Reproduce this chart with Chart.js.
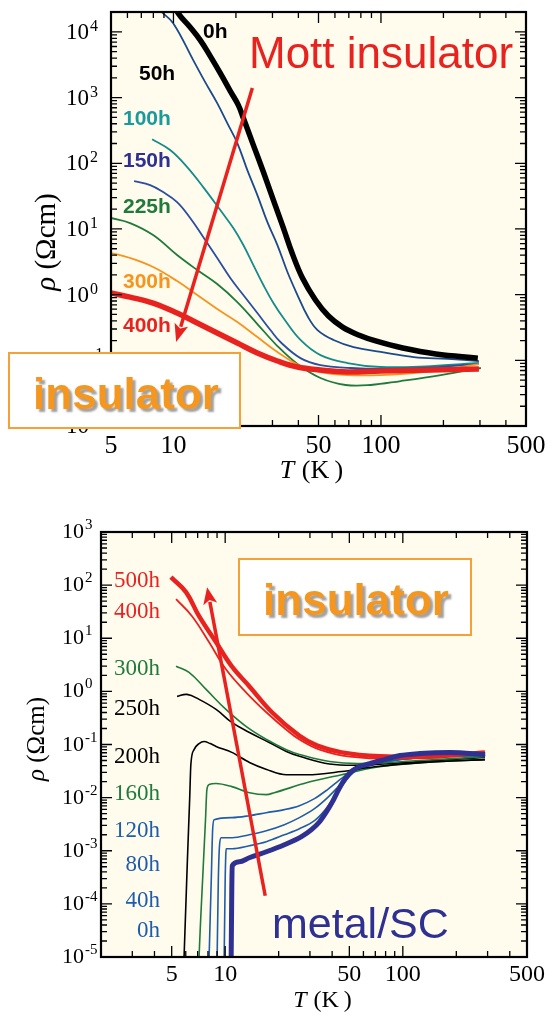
<!DOCTYPE html>
<html>
<head>
<meta charset="utf-8">
<script src="https://cdn.jsdelivr.net/npm/chart.js@4.4.1/dist/chart.umd.min.js"></script>
<style>
  html, body { margin: 0; padding: 0; background: #fff; width: 550px; height: 1014px; overflow: hidden; }
  .panel { position: absolute; left: 0; width: 550px; }
  #p1 { top: 0; height: 500px; }
  #p2 { top: 500px; height: 514px; }
  canvas { display: block; }
</style>
</head>
<body>
<div class="panel" id="p1"><canvas id="upper" width="550" height="500"></canvas></div>
<div class="panel" id="p2"><canvas id="lower" width="550" height="514"></canvas></div>
<script>
// ---------- axis labels ----------
const xTickValues = [5, 10, 50, 100, 500];
const upperDecades = [4, 3, 2, 1, 0, -1, -2];
const lowerDecades = [3, 2, 1, 0, -1, -2, -3, -4, -5];

// ---------- upper panel: resistivity (Ωcm) vs temperature (K) ----------
const upT0 = [9.9, 10.54, 12.04, 13.46, 15.04, 16.81, 18.79, 20.54, 21.71, 24.27, 27.13, 30.31, 33.88, 37.45, 41.85, 48.34, 55.85, 65.3, 78.0, 94.3, 127.3, 183.8, 293];
const upR0 = [30500, 19300, 11800, 7500, 4280, 2360, 1257, 769, 488, 189, 73.5, 27.5, 10.3, 4.15, 1.79, 0.828, 0.472, 0.321, 0.243, 0.197, 0.154, 0.125, 0.108];

const upT50 = [8.16, 8.62, 9.97, 12.45, 14.22, 16.25, 18.17, 20.31, 22.70, 25.37, 28.36, 31.69, 35.42, 39.59, 44.25, 49.45, 59.1, 73.8, 99.7, 143.8, 210, 296.5];
const upR50 = [30500, 21500, 13600, 3720, 1720, 824, 409, 203, 78.7, 32.8, 12.7, 5.69, 2.21, 0.986, 0.472, 0.289, 0.204, 0.159, 0.134, 0.112, 0.105, 0.0975];

const upT100 = [7.89, 9.64, 11.64, 13.91, 16.81, 19.43, 21.71, 24.27, 27.13, 30.31, 33.88, 40.93, 51.1, 69.0, 99.7, 173.8, 296.5];
const upR100 = [233, 159, 87.5, 43.4, 19.4, 10.3, 5.69, 2.82, 1.40, 0.745, 0.441, 0.204, 0.120, 0.091, 0.0791, 0.0818, 0.091];

const upT150 = [6.46, 7.72, 8.91, 10.41, 12.04, 13.91, 16.25, 18.79, 21.71, 25.37, 29.32, 32.78, 40.93, 51.1, 71.4, 99.7, 155.5, 296.5];
const upR150 = [53.6, 46.6, 36.5, 25.7, 14.7, 7.53, 3.61, 1.79, 0.986, 0.525, 0.289, 0.19, 0.108, 0.0847, 0.0764, 0.0738, 0.0764, 0.0878];

const upT225 = [5.0, 6.18, 7.98, 10.41, 13.02, 16.25, 20.31, 25.37, 31.69, 39.59, 51.1, 67.5, 89.2, 124.5, 194.3, 303];
const upR225 = [14.7, 12.3, 8.07, 4.01, 2.37, 1.45, 0.771, 0.357, 0.165, 0.0879, 0.0538, 0.0421, 0.0421, 0.0484, 0.0597, 0.0764];

const upT300 = [5.0, 6.18, 7.98, 10.41, 13.02, 16.25, 20.31, 25.37, 31.69, 40.93, 51.1, 69.0, 99.7, 143.8, 210, 296.5];
const upR300 = [4.30, 3.61, 2.63, 1.61, 0.986, 0.604, 0.383, 0.226, 0.134, 0.0818, 0.0664, 0.0597, 0.0597, 0.0641, 0.0738, 0.0878];

const upT400 = [5.0, 6.18, 7.98, 10.41, 13.02, 16.25, 20.31, 25.37, 31.69, 39.59, 51.1, 69.0, 99.7, 173.8, 296.5];
const upR400 = [1.06, 0.918, 0.745, 0.525, 0.370, 0.260, 0.183, 0.129, 0.0976, 0.0791, 0.0712, 0.0664, 0.0688, 0.0712, 0.0738];

// ---------- lower panel ----------
const loT500 = [4.95, 6.02, 7.13, 8.89, 10.9, 13.7, 18.4, 26.2, 33, 45.2, 74.1, 142, 290];
const loR500 = [141, 73.8, 26, 8.4, 2.96, 1.24, 0.40, 0.145, 0.095, 0.071, 0.060, 0.059, 0.071];

const loT400 = [5.29, 6.51, 8.12, 10.1, 13.1, 17.1, 22.1, 26.2, 34, 50.2, 96, 290];
const loR400 = [54.5, 26, 8.4, 2.6, 0.96, 0.40, 0.19, 0.124, 0.080, 0.059, 0.054, 0.068];

const loT300 = [5.29, 6.26, 7.81, 10.1, 13.1, 17.1, 22.1, 26.2, 38.7, 57.1, 125, 290];
const loR300 = [2.96, 2.28, 1.09, 0.457, 0.219, 0.124, 0.080, 0.065, 0.048, 0.044, 0.050, 0.059];

const loT250 = [5.36, 6.1, 7.13, 8.89, 10.9, 13.7, 17.7, 22.1, 26.2, 38.7, 60, 125, 290];
const loR250 = [0.805, 0.877, 0.706, 0.457, 0.26, 0.168, 0.109, 0.074, 0.060, 0.043, 0.041, 0.048, 0.057];

const loT200 = [5.8, 5.87, 6.13, 6.31, 6.41, 6.68, 7.13, 7.61, 8.23, 8.89, 10.9, 13.7, 17.1, 22.1, 29.0, 45.2, 69.4, 133, 290];
const loR200 = [3e-6, 1e-5, 6.8e-4, 9.2e-3, 0.042, 0.080, 0.104, 0.114, 0.104, 0.092, 0.071, 0.046, 0.034, 0.027, 0.027, 0.031, 0.038, 0.046, 0.052];

const loT160 = [7.05, 7.13, 7.51, 7.75, 7.89, 8.12, 8.89, 10.9, 13.7, 17.1, 18.9, 29.0, 45.2, 69.4, 133, 290];
const loR160 = [3e-6, 1e-5, 4.4e-4, 3.85e-3, 0.0142, 0.0176, 0.0184, 0.0161, 0.0124, 0.0114, 0.0124, 0.0192, 0.027, 0.037, 0.046, 0.052];

const loT120 = [8.05, 8.12, 8.35, 8.5, 8.67, 10.95, 13.67, 17.04, 21.54, 26.18, 31.83, 37.7, 42.9, 48.3, 55.0, 69.5, 96.2, 161.8, 290.6];
const loR120 = [3e-6, 1e-5, 2.8e-4, 2.49e-3, 3.85e-3, 4.2e-3, 4.57e-3, 5.21e-3, 5.94e-3, 7.06e-3, 9.57e-3, 0.0142, 0.0200, 0.0272, 0.0352, 0.0438, 0.0521, 0.0594, 0.0619];

const loT80 = [8.95, 9.01, 9.15, 9.3, 9.49, 10.95, 13.67, 17.04, 21.54, 26.18, 31.83, 37.7, 42.9, 48.3, 55.0, 69.5, 96.2, 161.8, 290.6];
const loR80 = [3e-6, 1e-5, 2.8e-4, 1.3e-3, 1.76e-3, 1.76e-3, 2.0e-3, 2.38e-3, 3.1e-3, 4.2e-3, 6.19e-3, 0.0100, 0.0155, 0.0238, 0.0337, 0.0438, 0.0521, 0.0594, 0.0619];

const loT40 = [9.8, 9.87, 10.0, 10.08, 10.13, 10.95, 13.67, 17.04, 21.54, 26.18, 31.83, 36.25, 40.2, 44.1, 48.3, 53.6, 69.5, 96.2, 161.8, 290.6];
const loR40 = [3e-6, 1e-5, 2.8e-4, 8.4e-4, 1.09e-3, 1.09e-3, 1.24e-3, 1.48e-3, 2.0e-3, 2.6e-3, 3.68e-3, 5.69e-3, 9.16e-3, 0.0142, 0.0219, 0.031, 0.042, 0.0521, 0.0594, 0.0619];

const loT0 = [10.75, 10.81, 10.88, 10.95, 12.0, 13.67, 17.04, 21.54, 26.9, 30.6, 34.0, 37.2, 40.2, 42.9, 45.8, 48.9, 52.2, 57.2, 65.1, 79.1, 96.2, 124.7, 184.4, 290.6];
const loR0 = [3e-6, 1e-5, 1.19e-4, 5.2e-4, 6.19e-4, 7.38e-4, 9.57e-4, 1.3e-3, 1.84e-3, 2.49e-3, 3.52e-3, 5.44e-3, 8.41e-3, 0.013, 0.0192, 0.026, 0.0323, 0.0385, 0.0438, 0.0521, 0.0619, 0.0676, 0.0707, 0.0648];

// ---------- colours ----------
const RED = '#e8231f', ORANGE = '#f7941d', GREEN = '#1f7a3c', TEAL = '#158b8b',
      NAVY = '#1b4a8c', BLUE = '#2a4ea0', INDIGO = '#2e3192', MIDBLUE = '#1f5cab',
      CREAM = '#fffcee';
const SERIF = '"Liberation Serif", "Times New Roman", serif';
const SANS = '"Liberation Sans", Arial, sans-serif';

function pts(T, R) { return T.map((t, i) => ({ x: t, y: R[i] })); }
// smooth curve (Catmull-Rom style)
function smooth(T, R, color, width) {
  return { data: pts(T, R), borderColor: color, borderWidth: width, pointRadius: 0,
           fill: false, clip: 0, tension: 0.4, borderJoinStyle: 'round' };
}
// curve with a sharp superconducting drop: monotone spline avoids overshoot
function sharp(T, R, color, width) {
  return { data: pts(T, R), borderColor: color, borderWidth: width, pointRadius: 0,
           fill: false, clip: 0, cubicInterpolationMode: 'monotone', borderJoinStyle: 'round' };
}

function logSteps(min, max) {
  const out = [];
  for (let e = Math.floor(Math.log10(min)) - 1; e <= Math.ceil(Math.log10(max)); e++) {
    for (let m = 1; m <= 9; m++) {
      const v = m * Math.pow(10, e);
      if (v >= min * 0.9999 && v <= max * 1.0001) out.push({ v, m });
    }
  }
  return out;
}
function isMajorX(v) { return xTickValues.some(t => Math.abs(Math.log10(t) - Math.log10(v)) < 1e-6); }

function drawFrame(chart) {
  const { ctx, chartArea: a, scales: { x, y } } = chart;
  ctx.save();
  ctx.strokeStyle = '#000';
  ctx.lineWidth = 1.3;
  ctx.beginPath();
  for (const { v } of logSteps(x.min, x.max)) {
    const px = x.getPixelForValue(v);
    if (px <= a.left + 1.5 || px >= a.right - 1.5) continue;
    const len = isMajorX(v) ? 11 : 6;
    ctx.moveTo(px, a.bottom); ctx.lineTo(px, a.bottom - len);
    ctx.moveTo(px, a.top); ctx.lineTo(px, a.top + len);
  }
  for (const { v, m } of logSteps(y.min, y.max)) {
    const py = y.getPixelForValue(v);
    if (py <= a.top + 1.5 || py >= a.bottom - 1.5) continue;
    const len = m === 1 ? 11 : 6;
    ctx.moveTo(a.left, py); ctx.lineTo(a.left + len, py);
    ctx.moveTo(a.right, py); ctx.lineTo(a.right - len, py);
  }
  ctx.stroke();
  ctx.lineWidth = 2.2;
  ctx.strokeRect(a.left, a.top, a.right - a.left, a.bottom - a.top);
  ctx.restore();
}

function drawYLabels(chart, decades, left, dy, baseSize, supSize, raise) {
  const { ctx, scales: { y } } = chart;
  ctx.save();
  ctx.fillStyle = '#000';
  ctx.textAlign = 'left';
  ctx.textBaseline = 'alphabetic';
  for (const d of decades) {
    const py = y.getPixelForValue(Math.pow(10, d)) + dy;
    ctx.font = `${baseSize}px ${SERIF}`;
    ctx.fillText('10', left, py);
    const w = ctx.measureText('10').width;
    ctx.font = `${supSize}px ${SERIF}`;
    ctx.fillText(String(d), left + w + 1, py - raise);
  }
  ctx.restore();
}

function drawXLabels(chart, baseline, size) {
  const { ctx, scales: { x } } = chart;
  ctx.save();
  ctx.fillStyle = '#000';
  ctx.font = `${size}px ${SERIF}`;
  ctx.textAlign = 'center';
  for (const v of xTickValues) {
    if (v < x.min || v > x.max) continue;
    ctx.fillText(String(v), x.getPixelForValue(v), baseline);
  }
  ctx.restore();
}

function drawXTitle(ctx, cx, baseline, size) {
  ctx.save();
  ctx.fillStyle = '#000';
  ctx.textAlign = 'left';
  const it = `italic ${size}px ${SERIF}`, rm = `${size}px ${SERIF}`, rest = ' (K\u2009)';
  ctx.font = it; const wT = ctx.measureText('T').width;
  ctx.font = rm; const wR = ctx.measureText(rest).width;
  const x0 = cx - (wT + wR) / 2;
  ctx.font = it; ctx.fillText('T', x0, baseline);
  ctx.font = rm; ctx.fillText(rest, x0 + wT + 1, baseline);
  ctx.restore();
}

function drawYTitle(ctx, bx, cy, size) {
  ctx.save();
  ctx.translate(bx, cy);
  ctx.rotate(-Math.PI / 2);
  ctx.fillStyle = '#000';
  ctx.textAlign = 'left';
  const it = `italic ${size}px ${SERIF}`, rm = `${size}px ${SERIF}`, rest = ' (\u03A9cm)';
  ctx.font = it; const wP = ctx.measureText('\u03C1').width;
  ctx.font = rm; const wR = ctx.measureText(rest).width;
  const x0 = -(wP + wR) / 2;
  ctx.font = it; ctx.fillText('\u03C1', x0, 0);
  ctx.font = rm; ctx.fillText(rest, x0 + wP, 0);
  ctx.restore();
}

function drawArrow(chart, from, to, color, lw, headLen, headHalf) {
  const { ctx, scales: { x, y } } = chart;
  const x0 = x.getPixelForValue(from[0]), y0 = y.getPixelForValue(from[1]);
  const x1 = x.getPixelForValue(to[0]), y1 = y.getPixelForValue(to[1]);
  const ang = Math.atan2(y1 - y0, x1 - x0);
  const bx = x1 - headLen * Math.cos(ang), by = y1 - headLen * Math.sin(ang);
  ctx.save();
  ctx.strokeStyle = color; ctx.lineWidth = lw;
  ctx.beginPath(); ctx.moveTo(x0, y0); ctx.lineTo(bx + 2 * Math.cos(ang), by + 2 * Math.sin(ang)); ctx.stroke();
  ctx.fillStyle = color;
  ctx.beginPath();
  ctx.moveTo(x1, y1);
  ctx.lineTo(bx + headHalf * Math.sin(ang), by - headHalf * Math.cos(ang));
  ctx.lineTo(bx + 4 * Math.cos(ang), by + 4 * Math.sin(ang));
  ctx.lineTo(bx - headHalf * Math.sin(ang), by + headHalf * Math.cos(ang));
  ctx.closePath(); ctx.fill();
  ctx.restore();
}

function drawInsulatorBox(ctx, bx, by, bw, bh, cx, baseline) {
  ctx.save();
  ctx.fillStyle = '#fff';
  ctx.fillRect(bx, by, bw, bh);
  ctx.strokeStyle = '#f6a137';
  ctx.lineWidth = 2;
  ctx.strokeRect(bx, by, bw, bh);
  ctx.font = `bold 44px ${SANS}`;
  ctx.textAlign = 'center';
  ctx.shadowColor = 'rgba(120,120,120,0.7)';
  ctx.shadowOffsetX = 3; ctx.shadowOffsetY = 3; ctx.shadowBlur = 2;
  ctx.fillStyle = '#f5961e';
  ctx.fillText('insulator', cx, baseline);
  ctx.restore();
}

function drawTexts(ctx, items, font, align) {
  ctx.save();
  ctx.font = font;
  ctx.textAlign = align;
  for (const [txt, x, y, c] of items) { ctx.fillStyle = c; ctx.fillText(txt, x, y); }
  ctx.restore();
}

const creamFill = {
  id: 'creamFill',
  beforeDraw(chart) {
    const { ctx, chartArea: a } = chart;
    ctx.save(); ctx.fillStyle = CREAM;
    ctx.fillRect(a.left, a.top, a.right - a.left, a.bottom - a.top);
    ctx.restore();
  }
};

const upperDecor = {
  id: 'upperDecor',
  afterDraw(chart) {
    const ctx = chart.ctx;
    drawFrame(chart);
    drawYLabels(chart, upperDecades, 66, 7, 23, 16, 8);
    drawXLabels(chart, 453, 26);
    drawXTitle(ctx, 311, 478, 26);
    drawYTitle(ctx, 55, 242, 29);
    drawTexts(ctx, [
      ['0h', 203, 38, '#000'], ['50h', 139, 80, '#000'], ['100h', 123, 125, '#1a9b9b'],
      ['150h', 123, 167, INDIGO], ['225h', 123, 213, GREEN], ['300h', 123, 288, ORANGE],
      ['400h', 123, 332, RED]
    ], `bold 21px ${SANS}`, 'left');
    drawTexts(ctx, [['Mott insulator', 249, 68, RED]], `44px ${SANS}`, 'left');
    drawArrow(chart, [24.0, 1400], [10.3, 0.19], RED, 3.5, 18, 7);
    drawInsulatorBox(ctx, 9, 353, 231, 75, 126, 409);
  }
};

const lowerDecor = {
  id: 'lowerDecor',
  afterDraw(chart) {
    const ctx = chart.ctx;
    drawFrame(chart);
    drawYLabels(chart, lowerDecades, 62, 6, 22, 15, 9);
    drawXLabels(chart, 481, 24);
    drawXTitle(ctx, 322, 507, 24);
    drawYTitle(ctx, 44, 239, 25);
    drawTexts(ctx, [
      ['500h', 160, 87, RED], ['400h', 160, 118, RED], ['300h', 160, 175, GREEN],
      ['250h', 160, 215, '#000'], ['200h', 160, 263, '#000'], ['160h', 160, 300, GREEN],
      ['120h', 160, 337, MIDBLUE], ['80h', 160, 371, MIDBLUE], ['40h', 160, 407, MIDBLUE],
      ['0h', 160, 437, MIDBLUE]
    ], `23px ${SERIF}`, 'right');
    drawTexts(ctx, [['metal/SC', 272, 438, INDIGO]], `43px ${SANS}`, 'left');
    drawArrow(chart, [16.8, 1.42e-4], [7.91, 91.6], RED, 3.5, 17, 7);
    drawInsulatorBox(ctx, 239, 59, 232, 76, 356, 115);
  }
};

function baseOptions(pad, xmin, xmax, ymin, ymax) {
  return {
    responsive: false, animation: false, events: [],
    layout: { padding: pad },
    plugins: { legend: { display: false }, tooltip: { enabled: false } },
    scales: {
      x: { type: 'logarithmic', min: xmin, max: xmax, display: false },
      y: { type: 'logarithmic', min: ymin, max: ymax, display: false }
    }
  };
}

new Chart(document.getElementById('upper'), {
  type: 'line',
  data: {
    datasets: [
      smooth(upT400, upR400, RED, 5.5),
      smooth(upT0, upR0, '#000', 5.5),
      smooth(upT300, upR300, ORANGE, 1.8),
      smooth(upT225, upR225, GREEN, 1.8),
      smooth(upT150, upR150, BLUE, 1.8),
      smooth(upT100, upR100, TEAL, 1.8),
      smooth(upT50, upR50, NAVY, 1.8)
    ]
  },
  options: baseOptions({ left: 111, top: 12, right: 24, bottom: 74 }, 5, 500, 0.01, 20100),
  plugins: [creamFill, upperDecor]
});

new Chart(document.getElementById('lower'), {
  type: 'line',
  data: {
    datasets: [
      sharp(loT0, loR0, INDIGO, 5),
      smooth(loT500, loR500, RED, 4.5),
      smooth(loT400, loR400, RED, 1.8),
      smooth(loT300, loR300, GREEN, 1.6),
      smooth(loT250, loR250, '#000', 1.6),
      sharp(loT200, loR200, '#000', 1.6),
      sharp(loT160, loR160, GREEN, 1.6),
      sharp(loT120, loR120, MIDBLUE, 1.6),
      sharp(loT80, loR80, MIDBLUE, 1.6),
      sharp(loT40, loR40, MIDBLUE, 1.6)
    ]
  },
  options: baseOptions({ left: 101, top: 32, right: 23, bottom: 57 }, 2, 500, 1e-5, 1000),
  plugins: [creamFill, lowerDecor]
});
</script>
</body>
</html>
